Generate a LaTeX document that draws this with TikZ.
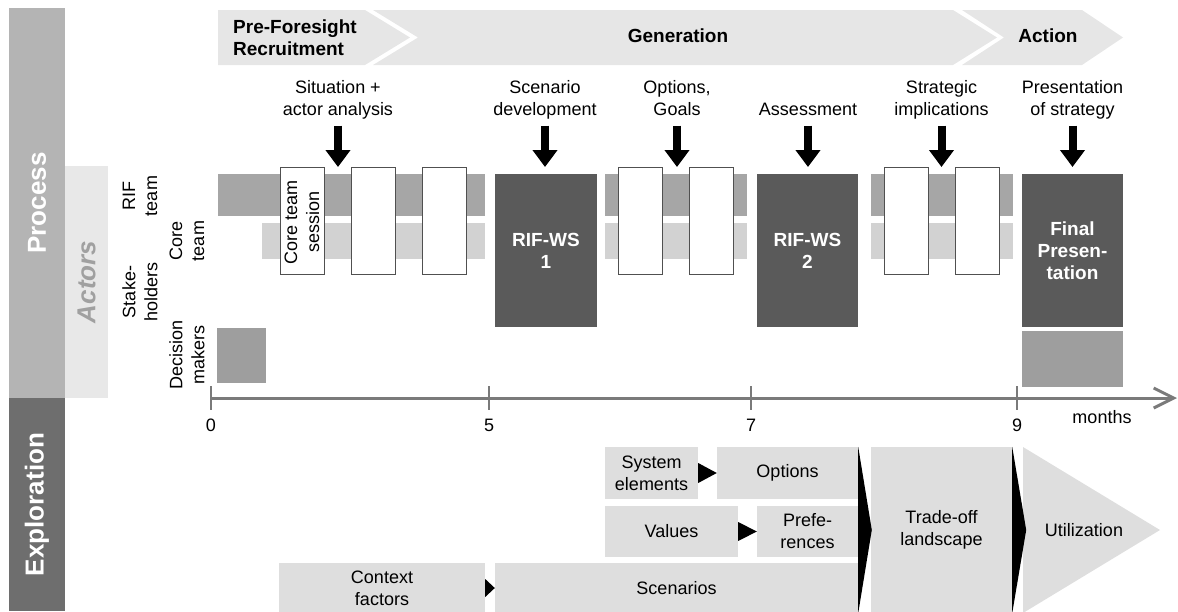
\documentclass[tikz,border=0pt]{standalone}
\usepackage{fontspec}
\setmainfont{Liberation Sans}
\usetikzlibrary{arrows.meta,calc}
\definecolor{procgray}{HTML}{B4B4B4}
\definecolor{actgray}{HTML}{E8E8E8}
\definecolor{expgray}{HTML}{6E6E6E}
\definecolor{chevgray}{HTML}{E6E6E6}
\definecolor{rifgray}{HTML}{A6A6A6}
\definecolor{coregray}{HTML}{D2D2D2}
\definecolor{wsgray}{HTML}{5A5A5A}
\definecolor{decgray}{HTML}{9E9E9E}
\definecolor{expbox}{HTML}{DEDEDE}
\definecolor{axisgray}{HTML}{7A7A7A}
\definecolor{actortext}{HTML}{A0A0A0}
\definecolor{boxline}{HTML}{505050}
\begin{document}
\begin{tikzpicture}[x=1pt,y=-1pt,
 txt/.style={font=\fontsize{18}{22}\selectfont, align=center, inner sep=0pt},
 ttl/.style={font=\bfseries\fontsize{19}{22}\selectfont, inner sep=0pt},
 side/.style={rotate=90, inner sep=0pt, font=\bfseries\fontsize{26}{30}\selectfont},
 wbox/.style={draw=boxline, line width=1pt, fill=white, minimum width=44, minimum height=107, inner sep=0pt},
 wsbox/.style={fill=wsgray, text=white, minimum width=101, minimum height=153, inner sep=0pt, align=center, font=\bfseries\fontsize{19}{22}\selectfont},
 ebox/.style={fill=expbox, inner sep=0pt, align=center, font=\fontsize{18}{22}\selectfont},
 bigarrow/.style={line width=8pt, -{Triangle[width=24pt,length=17pt]}, shorten <=3.5pt},
 axisline/.style={draw=axisgray, line width=3pt},
 rowlbl/.style={rotate=90, align=center, inner sep=0pt, font=\fontsize{18}{22}\selectfont},
]
\useasboundingbox (0,0) rectangle (1178,611);

% side bars
\node[side, fill=procgray, text=white, minimum width=390, minimum height=56] (process) at (37,203) {Process};
\node[side, fill=actgray, text=actortext, minimum width=232, minimum height=43, font=\bfseries\itshape\fontsize{26}{30}\selectfont] (actors) at (86.5,282) {Actors};
\node[side, fill=expgray, text=white, minimum width=213, minimum height=56] (exploration) at (37,504.5) {Exploration};

% chevrons
\fill[chevgray] (218,10) -- (365,10) -- (410,37.5) -- (365,65) -- (218,65) -- cycle;
\fill[chevgray] (373,10) -- (953,10) -- (997,37.5) -- (953,65) -- (373,65) -- (418,37.5) -- cycle;
\fill[chevgray] (962,10) -- (1082,10) -- (1123,37.5) -- (1082,65) -- (962,65) -- (1004,37.5) -- cycle;
\node[ttl, align=left, anchor=north west] (prefore) at (233,19.5) {Pre-Foresight\\Recruitment};
\node[ttl] (generation) at (678,36) {Generation};
\node[ttl] (action) at (1048,36) {Action};

% actor row labels
\node[rowlbl] (rif) at (140,196) {RIF\\team};
\node[rowlbl] (core) at (187,241) {Core\\team};
\node[rowlbl] (stake) at (140,292) {Stake-\\holders};
\node[rowlbl] (decision) at (187,355) {Decision\\makers};

% gantt bars
\fill[rifgray] (218,174) rectangle (485,216);
\fill[coregray] (262,223) rectangle (485,259);
\fill[rifgray] (605,174) rectangle (747,216);
\fill[coregray] (605,223) rectangle (747,259);
\fill[rifgray] (871,174) rectangle (1013,216);
\fill[coregray] (871,223) rectangle (1013,259);

% white session boxes
\node[wbox] (w1) at (302,220.5) {};
\node[rowlbl] (cts) at ($(w1)+(0,1.5)$) {Core team\\session};
\node[wbox] (w2) at (373.5,220.5) {};
\node[wbox] (w3) at (444.5,220.5) {};
\node[wbox] (w4) at (640.5,220.5) {};
\node[wbox] (w5) at (711.5,220.5) {};
\node[wbox] (w6) at (906.5,220.5) {};
\node[wbox] (w7) at (977.5,220.5) {};

% workshops
\node[wsbox, minimum width=102] (ws1) at (546,250.5) {RIF-WS\\1};
\node[wsbox] (ws2) at (807.5,250.5) {RIF-WS\\2};
\node[wsbox] (final) at (1072.5,250.5) {Final\\Presen-\\tation};
\node[fill=decgray, minimum width=101, minimum height=56, inner sep=0pt] (finaldec) at (1072.5,359) {};
\node[fill=decgray, minimum width=49, minimum height=55, inner sep=0pt] (dec0) at (241.5,355.5) {};

% step labels and arrows
\node[txt, anchor=south] (l1) at (338,122) {Situation +\\actor analysis\strut};
\node[txt, anchor=south] (l2) at (545,122) {Scenario\\development\strut};
\node[txt, anchor=south] (l3) at (677,122) {Options,\\Goals\strut};
\node[txt, anchor=south] (l4) at (808,122) {Assessment\strut};
\node[txt, anchor=south] (l5) at (941.5,122) {Strategic\\implications\strut};
\node[txt, anchor=south] (l6) at (1072.5,122) {Presentation\\of strategy\strut};
\coordinate (t1) at (338,167);
\coordinate (t2) at (545,167);
\coordinate (t3) at (677,167);
\coordinate (t4) at (808,167);
\coordinate (t5) at (941.5,167);
\coordinate (t6) at (1072.5,167);
\foreach \i in {1,...,6} { \draw[bigarrow] (l\i) -- (t\i); }

% time axis
\coordinate (ax0) at (210,398);
\coordinate (axend) at (1177,398);
\draw[axisline, -{Straight Barb[length=20pt,width=20pt]}] (ax0) -- (axend);
\foreach \x/\n in {211/0,489/5,751/7,1017/9} {
  \draw[axisgray, line width=2.5pt] (\x,386) -- (\x,410);
  \node[txt] (tick\n) at (\x,425) {\n};
}
\node[txt] (months) at (1102,417) {months};

% exploration boxes
\node[ebox, minimum width=93, minimum height=52] (se) at (651.5,473) {System\\elements};
\node[ebox, minimum width=141, minimum height=52] (opt) at (787.5,473) {Options};
\node[ebox, minimum width=133, minimum height=51] (val) at (671.5,531.5) {Values};
\node[ebox, minimum width=101, minimum height=51] (pref) at (807.5,531.5) {Prefe-\\rences};
\node[ebox, minimum width=206, minimum height=50] (ctx) at (382,588) {Context\\factors};
\node[ebox, minimum width=363, minimum height=50] (scen) at (676.5,588) {Scenarios};
\node[ebox, minimum width=141, minimum height=166] (trade) at (941.5,530) {Trade-off\\landscape};
\fill[expbox] (1023,447) -- (1160,530) -- (1023,613) -- cycle;
\node[txt] (util) at (1084,530) {Utilization};

\fill ($(se.east)+(0,-10)$) -- (opt.west) -- ($(se.east)+(0,10)$) -- cycle;
\fill ($(val.east)+(0,-9.5)$) -- (pref.west) -- ($(val.east)+(0,9.5)$) -- cycle;
\fill ($(ctx.east)+(0,-9)$) -- (scen.west) -- ($(ctx.east)+(0,9)$) -- cycle;
\fill (opt.north east) -- ($(trade.west)+(1,0)$) -- (scen.south east) -- cycle;
\fill (trade.north east) -- ($(trade.east)+(14,0)$) -- (trade.south east) -- cycle;
\end{tikzpicture}
\end{document}
